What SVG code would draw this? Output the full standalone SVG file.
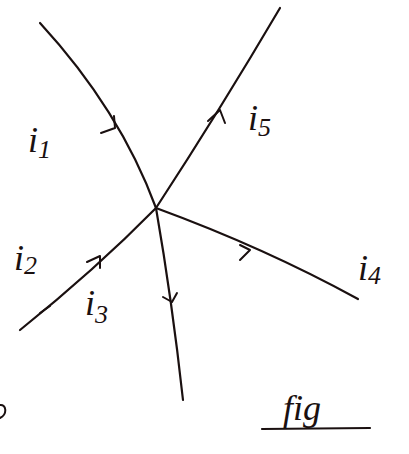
<svg xmlns="http://www.w3.org/2000/svg" width="409" height="454" viewBox="0 0 409 454">
<defs>
<style>
.w{fill:none;stroke:#1a1010;stroke-width:2.2;stroke-linecap:round;stroke-linejoin:round}
.a{fill:none;stroke:#1a1010;stroke-width:2;stroke-linecap:round;stroke-linejoin:round}
.t{font-family:"Liberation Serif",serif;font-style:italic;fill:#1a1010;font-size:36px}
.s{font-size:26px}
</style>
</defs>
<rect width="409" height="454" fill="#fff"/>
<g id="connectors">
<path id="w1" class="w" d="M40,23 Q120,110 156,208"/>
<path id="w5" class="w" d="M156,208 Q220,110 280,8"/>
<path id="w2" class="w" d="M20,330 Q95,270 156,208"/>
<path id="w3" class="w" d="M156,208 Q172,300 183,400"/>
<path id="w4" class="w" d="M156,208 Q265,248 358,299"/>
<path class="a" d="M101,133 L115,128 L114,116"/>
<path class="a" d="M208,121 L220,110 L225,123"/>
<path class="a" d="M87,262 L100,256 L100,268"/>
<path class="a" d="M40,313 L50,306"/>
<path class="a" d="M163,297 L172,302 L177,293"/>
<path class="a" d="M240,260 L250,250 L240,245"/>
</g>
<g id="i1"><text class="t" x="28" y="152">i<tspan class="s" dy="6">1</tspan></text></g>
<g id="i5"><text class="t" x="248" y="130">i<tspan class="s" dy="6">5</tspan></text></g>
<g id="i2"><text class="t" x="14" y="270">i<tspan class="s" dy="4">2</tspan></text></g>
<g id="i3"><text class="t" x="85" y="315">i<tspan class="s" dy="8">3</tspan></text></g>
<g id="i4"><text class="t" x="358" y="280">i<tspan class="s" dy="4">4</tspan></text></g>
<g id="fig">
<text class="t" x="283" y="420" font-size="48">fig</text>
<path class="w" d="M262,429 L370,428"/>
</g>
<path class="a" d="M0,405 C6,404 8,414 0,418"/>
</svg>
